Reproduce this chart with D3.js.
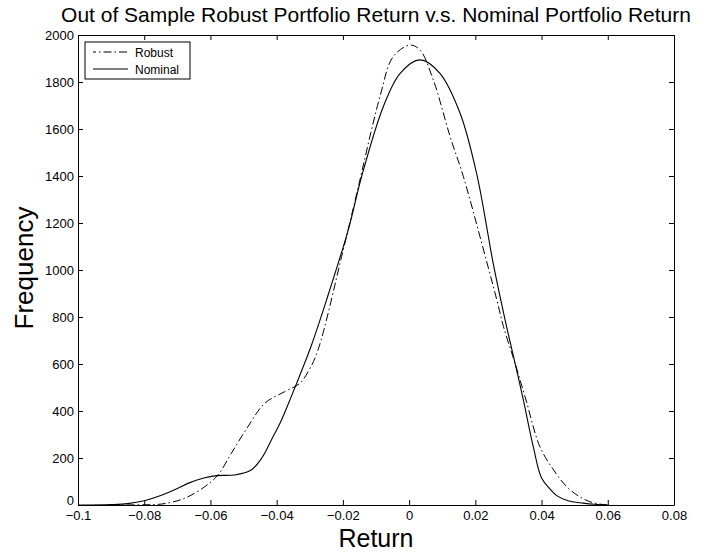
<!DOCTYPE html>
<html>
<head>
<meta charset="utf-8">
<script src="https://cdn.jsdelivr.net/npm/d3@7"></script>
<style>
  body { margin: 0; background: #fff; }
  text { font-family: "Liberation Sans", Arial, Helvetica, sans-serif; fill: #000; }
</style>
</head>
<body>
<svg id="chart" width="701" height="552"></svg>
<script>
// ---- data ----
const robustX = [-0.09, -0.08, -0.0748, -0.07, -0.0668, -0.0617, -0.0577, -0.0537, -0.0487, -0.0436, -0.0376, -0.033, -0.030, -0.0275, -0.0199, -0.0158, -0.0088, -0.0048, 0.0003, 0.0033, 0.0073, 0.0124, 0.0164, 0.0214, 0.0265, 0.0285, 0.032, 0.0353, 0.0395, 0.0436, 0.0476, 0.0515, 0.0546, 0.058, 0.060];
const robustY = [0, 1, 4, 18, 35, 78, 128, 220, 333, 433, 482, 518, 580, 660, 1085, 1326, 1738, 1908, 1957, 1936, 1809, 1567, 1397, 1142, 872, 759, 603, 447, 248, 150, 78, 35, 14, 3, 0];

const nominalX = [-0.10, -0.09, -0.085, -0.08, -0.075, -0.07, -0.0668, -0.062, -0.0582, -0.0527, -0.0477, -0.0445, -0.0416, -0.0386, -0.0356, -0.0325, -0.0295, -0.025, -0.0184, -0.0143, -0.0078, -0.0027, 0.0033, 0.0093, 0.0154, 0.0204, 0.0254, 0.029, 0.032, 0.0345, 0.0375, 0.040, 0.0426, 0.0446, 0.048, 0.0526, 0.056, 0.060];
const nominalY = [0, 2, 6, 18, 40, 70, 92, 115, 125, 128, 149, 200, 277, 360, 461, 570, 680, 870, 1170, 1400, 1695, 1837, 1894, 1837, 1667, 1410, 1028, 787, 603, 447, 248, 115, 68, 40, 18, 8, 3, 0];

const xTicks = [-0.1, -0.08, -0.06, -0.04, -0.02, 0, 0.02, 0.04, 0.06, 0.08];
const xTickLabels = ["\u22120.1", "\u22120.08", "\u22120.06", "\u22120.04", "\u22120.02", "0", "0.02", "0.04", "0.06", "0.08"];
const yTicks = [0, 200, 400, 600, 800, 1000, 1200, 1400, 1600, 1800, 2000];
const seriesNames = ["Robust", "Nominal"];

const titleText = "Out of Sample Robust Portfolio Return v.s. Nominal Portfolio Return";
const xLabelText = "Return";
const yLabelText = "Frequency";

// ---- layout ----
const L = 78, R = 674, T = 35, B = 505;
const svg = d3.select("#chart");
const x = d3.scaleLinear().domain([-0.1, 0.08]).range([L, R]);
const y = d3.scaleLinear().domain([0, 2000]).range([B, T]);

const fmtX = (d) => xTickLabels[xTicks.indexOf(d)];

svg.append("rect").attr("x", L).attr("y", T).attr("width", R - L).attr("height", B - T)
  .attr("fill", "#fff").attr("stroke", "none");

// bottom axis
const gB = svg.append("g").attr("transform", `translate(0,${B})`)
  .call(d3.axisBottom(x).tickValues(xTicks).tickFormat(fmtX).tickSizeInner(-5).tickSizeOuter(0).tickPadding(6));
// top axis
const gT = svg.append("g").attr("transform", `translate(0,${T})`)
  .call(d3.axisTop(x).tickValues(xTicks).tickFormat("").tickSizeInner(-5).tickSizeOuter(0));
// left axis
const gL = svg.append("g").attr("transform", `translate(${L},0)`)
  .call(d3.axisLeft(y).tickValues(yTicks).tickFormat(d3.format("d")).tickSizeInner(-5).tickSizeOuter(0).tickPadding(4));
// right axis
const gR = svg.append("g").attr("transform", `translate(${R},0)`)
  .call(d3.axisRight(y).tickValues(yTicks).tickFormat("").tickSizeInner(-5).tickSizeOuter(0));

[gB, gT, gL, gR].forEach(g => {
  g.select(".domain").attr("stroke", "#000").attr("stroke-width", 1);
  g.selectAll(".tick line").attr("stroke", "#000").attr("stroke-width", 1);
  g.selectAll(".tick text").attr("font-size", 13).attr("font-family", "'Liberation Sans', Arial, sans-serif").attr("fill", "#000");
});
// nudge the y "0" label up slightly as in the reference
gL.selectAll(".tick text").filter(d => d === 0).attr("dy", "-0.05em");

// curves
const line = d3.line().x(d => x(d[0])).y(d => y(d[1])).curve(d3.curveCatmullRom.alpha(0.5));
const robust = robustX.map((v, i) => [v, robustY[i]]);
const nominal = nominalX.map((v, i) => [v, nominalY[i]]);

svg.append("path").datum(nominal).attr("d", line)
  .attr("fill", "none").attr("stroke", "#000").attr("stroke-width", 1.1);
svg.append("path").datum(robust).attr("d", line)
  .attr("fill", "none").attr("stroke", "#000").attr("stroke-width", 1)
  .attr("stroke-dasharray", "8,3,1.5,3");

// legend
const lg = svg.append("g");
lg.append("rect").attr("x", 85).attr("y", 42).attr("width", 105).attr("height", 37)
  .attr("fill", "#fff").attr("stroke", "#000").attr("stroke-width", 1);
const styles = [{dash: "8,3,1.5,3", y: 52}, {dash: null, y: 69}];
seriesNames.forEach((n, i) => {
  const l = lg.append("line").attr("x1", 93).attr("x2", 128).attr("y1", styles[i].y).attr("y2", styles[i].y)
    .attr("stroke", "#000").attr("stroke-width", 1);
  if (styles[i].dash) l.attr("stroke-dasharray", styles[i].dash).attr("stroke-dashoffset", 5);
  lg.append("text").attr("x", 135).attr("y", styles[i].y + 5).attr("font-size", 12).text(n);
});

// title & labels
svg.append("text").attr("x", (L + R) / 2).attr("y", 22).attr("text-anchor", "middle")
  .attr("font-size", 21).text(titleText);
svg.append("text").attr("x", (L + R) / 2).attr("y", 546.5).attr("text-anchor", "middle")
  .attr("font-size", 25).text(xLabelText);
svg.append("text").attr("transform", `translate(33,268) rotate(-90)`).attr("text-anchor", "middle")
  .attr("font-size", 26).text(yLabelText);
</script>
</body>
</html>
